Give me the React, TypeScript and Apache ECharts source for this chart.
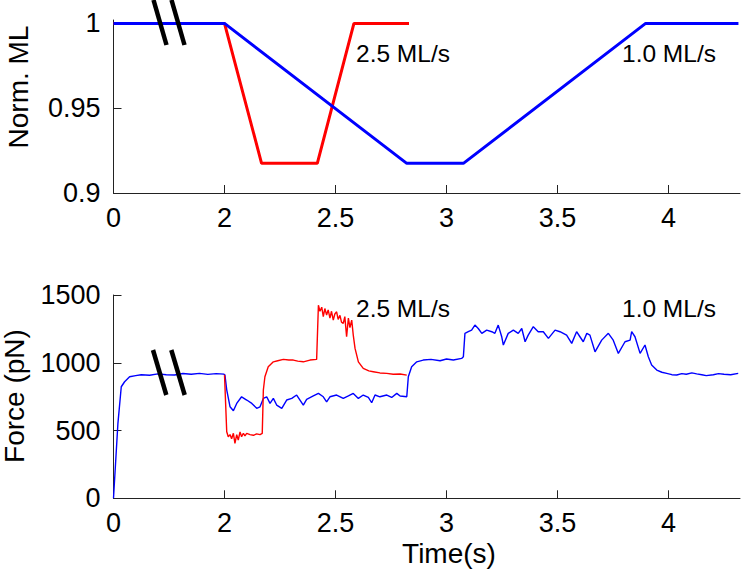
import React, { useEffect, useRef } from "react";
import * as echarts from "echarts";

// ---- axis break mapping (time axis is broken between 0 and 2 s) ----
const BREAK_T = 2;
const PRE_SCALE = 0.25;
const TIME_OFFSET = 1.5;
const toAxis = (t: number) => (t < BREAK_T ? t * PRE_SCALE : t - TIME_OFFSET);

// ---- tick labels ----
const timeTickPositions = [0, 0.5, 1, 1.5, 2, 2.5];
const timeTickLabels = ["0", "2", "2.5", "3", "3.5", "4"];
const mlTicks = [0.9, 0.95, 1];
const mlTickLabels = ["0.9", "0.95", "1"];
const forceTicks = [0, 500, 1000, 1500];
const forceTickLabels = ["0", "500", "1000", "1500"];

// ---- normalized muscle length (time s, norm. ML) ----
const mlBlue: [number, number][] = [
  [0, 1], [2, 1], [2.821, 0.9175], [3.076, 0.9175], [3.897, 1], [4.315, 1],
];
const mlRed: [number, number][] = [
  [0, 1], [2, 1], [2.167, 0.9175], [2.418, 0.9175], [2.583, 1], [2.831, 1],
];

// ---- force traces (time s, pN) ----
const forceBlue: [number, number][] = [
  [0, 0], [0.08, 555], [0.14, 823], [0.2, 860], [0.29, 897], [0.4, 905], [0.5, 912],
  [0.65, 908], [0.8, 918], [0.95, 912], [1.1, 910], [1.25, 921], [1.4, 915], [1.55, 922],
  [1.7, 914], [1.85, 920], [1.99, 916],
  [2.002, 909], [2.01, 800], [2.025, 675], [2.04, 646], [2.055, 700], [2.077, 749],
  [2.1, 725], [2.123, 700], [2.145, 664], [2.16, 675], [2.175, 737], [2.19, 749],
  [2.205, 700], [2.22, 737], [2.235, 688], [2.258, 664], [2.28, 725], [2.303, 737],
  [2.325, 762], [2.34, 725], [2.355, 688], [2.37, 730], [2.4, 755], [2.423, 774],
  [2.445, 749], [2.46, 712], [2.475, 749], [2.505, 762], [2.535, 737], [2.558, 755],
  [2.58, 774], [2.603, 737], [2.625, 762], [2.648, 744], [2.663, 705], [2.678, 762],
  [2.7, 749], [2.731, 762], [2.753, 744], [2.776, 774], [2.791, 755], [2.821, 749],
  [2.828, 897], [2.843, 970], [2.866, 1007], [2.895, 1020], [2.93, 1025], [2.971, 1015],
  [3.0, 1028], [3.031, 1020], [3.068, 1032], [3.076, 1045], [3.083, 1217], [3.098, 1229],
  [3.113, 1241], [3.128, 1278], [3.143, 1253], [3.159, 1217], [3.181, 1241], [3.204, 1229],
  [3.218, 1217], [3.233, 1278], [3.249, 1190], [3.256, 1131], [3.278, 1217], [3.301, 1241],
  [3.323, 1217], [3.339, 1253], [3.354, 1155], [3.368, 1204], [3.391, 1266], [3.413, 1229],
  [3.436, 1229], [3.459, 1180], [3.489, 1241], [3.511, 1229], [3.541, 1204], [3.564, 1143],
  [3.586, 1229], [3.601, 1192], [3.616, 1155], [3.632, 1217], [3.646, 1204], [3.669, 1081],
  [3.699, 1167], [3.729, 1217], [3.751, 1167], [3.774, 1069], [3.804, 1155], [3.827, 1167],
  [3.834, 1229], [3.849, 1192], [3.872, 1069], [3.894, 1131], [3.909, 1044], [3.924, 983],
  [3.947, 946], [3.97, 930], [3.992, 922], [4.015, 912], [4.037, 910], [4.06, 920],
  [4.08, 915], [4.105, 925], [4.127, 918], [4.15, 912], [4.17, 905], [4.202, 912],
  [4.225, 920], [4.25, 915], [4.28, 912], [4.314, 922],
];
const forceRed: [number, number][] = [
  [2.0, 912], [2.01, 491], [2.017, 454], [2.025, 470], [2.032, 440], [2.04, 480],
  [2.047, 405], [2.055, 470], [2.062, 430], [2.07, 490], [2.077, 454], [2.085, 480],
  [2.092, 460], [2.1, 479], [2.115, 470], [2.13, 465], [2.145, 475], [2.16, 470],
  [2.17, 479], [2.175, 799], [2.182, 897], [2.197, 970], [2.22, 1007], [2.24, 1015],
  [2.265, 1025], [2.29, 1020], [2.31, 1020], [2.33, 1012], [2.355, 1007], [2.385, 1020],
  [2.415, 1025], [2.423, 1425], [2.43, 1380], [2.438, 1410], [2.445, 1340], [2.452, 1400],
  [2.46, 1352], [2.467, 1390], [2.475, 1330], [2.482, 1380], [2.49, 1315], [2.497, 1360],
  [2.505, 1376], [2.512, 1320], [2.52, 1350], [2.527, 1300], [2.535, 1290], [2.542, 1340],
  [2.55, 1192], [2.558, 1330], [2.565, 1260], [2.573, 1315], [2.58, 1204], [2.588, 1106],
  [2.603, 1007], [2.625, 959], [2.65, 940], [2.67, 934], [2.7, 925], [2.731, 922],
  [2.76, 915], [2.791, 917], [2.821, 909],
];

const FONT = "'Liberation Sans', Arial, Helvetica, sans-serif";
const BLUE = "#0000ff";
const RED = "#ff0000";
const TICK_FONT = 27;

export default function App() {
  const ref = useRef<HTMLDivElement>(null);
  useEffect(() => {
    if (!ref.current) return;
    const chart = echarts.init(ref.current, undefined, { renderer: "svg" });
    const mk = (d: [number, number][]) => d.map(([t, v]) => [toAxis(t), v]);
    const xBase = (gridIndex: number) => ({
      type: "value" as const,
      gridIndex,
      min: 0,
      max: 2.822,
      axisLine: { show: true, lineStyle: { color: "#222", width: 1 } },
      axisTick: { show: true, inside: true, length: 8, customValues: timeTickPositions, lineStyle: { color: "#222" } },
      axisLabel: {
        customValues: timeTickPositions,
        margin: 11,
        fontSize: TICK_FONT,
        color: "#000",
        fontFamily: FONT,
        formatter: (v: number) => timeTickLabels[Math.round(v / 0.5)] ?? "",
      },
      splitLine: { show: false },
    });
    const option: any = {
      animation: false,
      grid: [
        { left: 113.5, right: 9, top: 20, height: 173 },
        { left: 113.5, right: 9, top: 295, height: 203.3 },
      ],
      xAxis: [xBase(0), xBase(1)],
      yAxis: [
        {
          type: "value",
          gridIndex: 0,
          min: 0.9,
          max: 1.002,
          axisLine: { show: true, lineStyle: { color: "#222", width: 1 } },
          axisTick: { show: true, inside: true, length: 8, customValues: mlTicks, lineStyle: { color: "#222" } },
          axisLabel: {
            customValues: mlTicks,
            margin: 13,
            fontSize: TICK_FONT,
            color: "#000",
            fontFamily: FONT,
            formatter: (v: number) => mlTickLabels[mlTicks.findIndex((m) => Math.abs(m - v) < 1e-6)] ?? "",
          },
          splitLine: { show: false },
        },
        {
          type: "value",
          gridIndex: 1,
          min: 0,
          max: 1500,
          axisLine: { show: true, lineStyle: { color: "#222", width: 1 } },
          axisTick: { show: true, inside: true, length: 8, customValues: forceTicks, lineStyle: { color: "#222" } },
          axisLabel: {
            customValues: forceTicks,
            margin: 13,
            fontSize: TICK_FONT,
            color: "#000",
            fontFamily: FONT,
            formatter: (v: number) => forceTickLabels[forceTicks.indexOf(v)] ?? "",
          },
          splitLine: { show: false },
        },
      ],
      series: [
        { type: "line", xAxisIndex: 0, yAxisIndex: 0, data: mk(mlRed), showSymbol: false, symbol: "none", lineStyle: { color: RED, width: 3 }, itemStyle: { color: RED } },
        { type: "line", xAxisIndex: 0, yAxisIndex: 0, data: mk(mlBlue), showSymbol: false, symbol: "none", lineStyle: { color: BLUE, width: 3 }, itemStyle: { color: BLUE } },
        { type: "line", xAxisIndex: 1, yAxisIndex: 1, data: mk(forceBlue), showSymbol: false, symbol: "none", lineStyle: { color: BLUE, width: 1.4 }, itemStyle: { color: BLUE } },
        { type: "line", xAxisIndex: 1, yAxisIndex: 1, data: mk(forceRed), showSymbol: false, symbol: "none", lineStyle: { color: RED, width: 1.4 }, itemStyle: { color: RED } },
      ],
      graphic: [
        // break marks
        { type: "line", shape: { x1: 153.5, y1: 0, x2: 166.5, y2: 45 }, style: { stroke: "#000", lineWidth: 4.5 }, z: 100 },
        { type: "line", shape: { x1: 171.5, y1: 0, x2: 184.5, y2: 45 }, style: { stroke: "#000", lineWidth: 4.5 }, z: 100 },
        { type: "line", shape: { x1: 153, y1: 350, x2: 166.3, y2: 395 }, style: { stroke: "#000", lineWidth: 4.5 }, z: 100 },
        { type: "line", shape: { x1: 171.3, y1: 350, x2: 184.7, y2: 395 }, style: { stroke: "#000", lineWidth: 4.5 }, z: 100 },
        // annotations
        { type: "text", x: 356, y: 53, style: { text: "2.5 ML/s", fontSize: 24.5, fontFamily: FONT, fill: "#000", textVerticalAlign: "middle" } },
        { type: "text", x: 622, y: 53, style: { text: "1.0 ML/s", fontSize: 24.5, fontFamily: FONT, fill: "#000", textVerticalAlign: "middle" } },
        { type: "text", x: 356, y: 308, style: { text: "2.5 ML/s", fontSize: 24.5, fontFamily: FONT, fill: "#000", textVerticalAlign: "middle" } },
        { type: "text", x: 622, y: 308, style: { text: "1.0 ML/s", fontSize: 24.5, fontFamily: FONT, fill: "#000", textVerticalAlign: "middle" } },
        // axis titles
        { type: "text", x: 18, y: 87, rotation: Math.PI / 2, style: { text: "Norm. ML", fontSize: 28, fontFamily: FONT, fill: "#000", textAlign: "center", textVerticalAlign: "middle" } },
        { type: "text", x: 14, y: 396, rotation: Math.PI / 2, style: { text: "Force (pN)", fontSize: 28, fontFamily: FONT, fill: "#000", textAlign: "center", textVerticalAlign: "middle" } },
        { type: "text", x: 449, y: 553, style: { text: "Time(s)", fontSize: 28, fontFamily: FONT, fill: "#000", textAlign: "center", textVerticalAlign: "middle" } },
      ],
    };
    chart.setOption(option);
    return () => chart.dispose();
  }, []);
  return (
    <div
      ref={ref}
      style={{ position: "fixed", left: 0, top: 0, width: 749, height: 572, background: "#fff" }}
    />
  );
}
